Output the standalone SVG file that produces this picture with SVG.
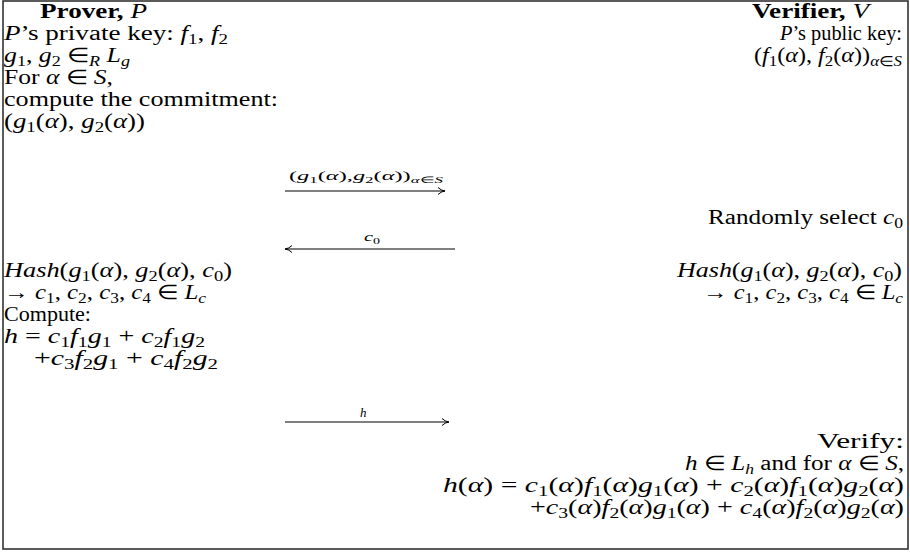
<svg xmlns="http://www.w3.org/2000/svg" width="910" height="552" viewBox="0 0 910 552">
<style>
.t{font-family:"Liberation Serif","Times New Roman",serif;font-size:20px;fill:#000}
.sm{font-size:13px}
.i{font-style:italic}
.b{font-weight:bold}
.s{font-size:14px}
.ss{font-size:9px}
.ln{stroke:#000;stroke-width:1.1;fill:none}
</style>
<defs>
<marker id="ah" markerWidth="10" markerHeight="10" refX="8" refY="5" orient="auto" markerUnits="userSpaceOnUse">
<path d="M1,1.5 Q4,4.5 8,5 Q4,5.5 1,8.5" fill="none" stroke="#000" stroke-width="1"/>
</marker>
</defs>
<rect x="3" y="1" width="905" height="548" fill="#fff" stroke="#333" stroke-width="1.6"/>

<g id="prover">
<text class="t" x="40" y="18" textLength="107" lengthAdjust="spacingAndGlyphs"><tspan class="b">Prover,</tspan> <tspan class="i">P</tspan></text>
<text class="t" x="4" y="40" textLength="224" lengthAdjust="spacingAndGlyphs"><tspan class="i">P</tspan>’s private key: <tspan class="i">f</tspan><tspan class="s" dy="4">1</tspan><tspan dy="-4">, </tspan><tspan class="i">f</tspan><tspan class="s" dy="4">2</tspan></text>
<text class="t" x="4" y="62" textLength="126" lengthAdjust="spacingAndGlyphs"><tspan class="i">g</tspan><tspan class="s" dy="4">1</tspan><tspan dy="-4">, </tspan><tspan class="i">g</tspan><tspan class="s" dy="4">2</tspan><tspan dy="-4"> ∈</tspan><tspan class="s i" dy="4">R</tspan><tspan class="i" dy="-4"> L</tspan><tspan class="s i" dy="4">g</tspan></text>
<text class="t" x="4" y="84" textLength="109" lengthAdjust="spacingAndGlyphs">For <tspan class="i">α</tspan> ∈ <tspan class="i">S</tspan>,</text>
<text class="t" x="4" y="106" textLength="274" lengthAdjust="spacingAndGlyphs">compute the commitment:</text>
<text class="t" x="4" y="128" textLength="141" lengthAdjust="spacingAndGlyphs">(<tspan class="i">g</tspan><tspan class="s" dy="4">1</tspan><tspan dy="-4">(</tspan><tspan class="i">α</tspan>), <tspan class="i">g</tspan><tspan class="s" dy="4">2</tspan><tspan dy="-4">(</tspan><tspan class="i">α</tspan>))</text>
</g>

<g id="prover-hash">
<text class="t" x="4" y="277" textLength="228" lengthAdjust="spacingAndGlyphs"><tspan class="i">Hash</tspan>(<tspan class="i">g</tspan><tspan class="s" dy="4">1</tspan><tspan dy="-4">(</tspan><tspan class="i">α</tspan>), <tspan class="i">g</tspan><tspan class="s" dy="4">2</tspan><tspan dy="-4">(</tspan><tspan class="i">α</tspan>), <tspan class="i">c</tspan><tspan class="s" dy="4">0</tspan><tspan dy="-4">)</tspan></text>
<text class="t" x="4" y="299" textLength="202" lengthAdjust="spacingAndGlyphs">→ <tspan class="i">c</tspan><tspan class="s" dy="4">1</tspan><tspan dy="-4">, </tspan><tspan class="i">c</tspan><tspan class="s" dy="4">2</tspan><tspan dy="-4">, </tspan><tspan class="i">c</tspan><tspan class="s" dy="4">3</tspan><tspan dy="-4">, </tspan><tspan class="i">c</tspan><tspan class="s" dy="4">4</tspan><tspan dy="-4"> ∈ </tspan><tspan class="i">L</tspan><tspan class="s i" dy="4">c</tspan></text>
<text class="t" x="4" y="321" textLength="87" lengthAdjust="spacingAndGlyphs">Compute:</text>
<text class="t" x="4" y="343" textLength="201" lengthAdjust="spacingAndGlyphs"><tspan class="i">h</tspan> = <tspan class="i">c</tspan><tspan class="s" dy="4">1</tspan><tspan class="i" dy="-4">f</tspan><tspan class="s" dy="4">1</tspan><tspan class="i" dy="-4">g</tspan><tspan class="s" dy="4">1</tspan><tspan dy="-4"> + </tspan><tspan class="i">c</tspan><tspan class="s" dy="4">2</tspan><tspan class="i" dy="-4">f</tspan><tspan class="s" dy="4">1</tspan><tspan class="i" dy="-4">g</tspan><tspan class="s" dy="4">2</tspan></text>
<text class="t" x="34" y="365" textLength="184" lengthAdjust="spacingAndGlyphs">+<tspan class="i">c</tspan><tspan class="s" dy="4">3</tspan><tspan class="i" dy="-4">f</tspan><tspan class="s" dy="4">2</tspan><tspan class="i" dy="-4">g</tspan><tspan class="s" dy="4">1</tspan><tspan dy="-4"> + </tspan><tspan class="i">c</tspan><tspan class="s" dy="4">4</tspan><tspan class="i" dy="-4">f</tspan><tspan class="s" dy="4">2</tspan><tspan class="i" dy="-4">g</tspan><tspan class="s" dy="4">2</tspan></text>
</g>

<g id="verifier">
<text class="t" x="752" y="18" textLength="117" lengthAdjust="spacingAndGlyphs"><tspan class="b">Verifier,</tspan> <tspan class="i">V</tspan></text>
<text class="t" x="780" y="40" textLength="122" lengthAdjust="spacingAndGlyphs"><tspan class="i">P</tspan>’s public key:</text>
<text class="t" x="754" y="62" textLength="148" lengthAdjust="spacingAndGlyphs">(<tspan class="i">f</tspan><tspan class="s" dy="4">1</tspan><tspan dy="-4">(</tspan><tspan class="i">α</tspan>), <tspan class="i">f</tspan><tspan class="s" dy="4">2</tspan><tspan dy="-4">(</tspan><tspan class="i">α</tspan>))<tspan class="s" dy="4"><tspan class="i">α</tspan>∈<tspan class="i">S</tspan></tspan></text>
</g>

<g id="verifier-select">
<text class="t" x="708" y="224" textLength="195" lengthAdjust="spacingAndGlyphs">Randomly select <tspan class="i">c</tspan><tspan class="s" dy="4">0</tspan></text>
</g>

<g id="verifier-hash">
<text class="t" x="677" y="277" textLength="225" lengthAdjust="spacingAndGlyphs"><tspan class="i">Hash</tspan>(<tspan class="i">g</tspan><tspan class="s" dy="4">1</tspan><tspan dy="-4">(</tspan><tspan class="i">α</tspan>), <tspan class="i">g</tspan><tspan class="s" dy="4">2</tspan><tspan dy="-4">(</tspan><tspan class="i">α</tspan>), <tspan class="i">c</tspan><tspan class="s" dy="4">0</tspan><tspan dy="-4">)</tspan></text>
<text class="t" x="703" y="299" textLength="200" lengthAdjust="spacingAndGlyphs">→ <tspan class="i">c</tspan><tspan class="s" dy="4">1</tspan><tspan dy="-4">, </tspan><tspan class="i">c</tspan><tspan class="s" dy="4">2</tspan><tspan dy="-4">, </tspan><tspan class="i">c</tspan><tspan class="s" dy="4">3</tspan><tspan dy="-4">, </tspan><tspan class="i">c</tspan><tspan class="s" dy="4">4</tspan><tspan dy="-4"> ∈ </tspan><tspan class="i">L</tspan><tspan class="s i" dy="4">c</tspan></text>
</g>

<g id="verifier-verify">
<text class="t" x="817" y="448" textLength="87" lengthAdjust="spacingAndGlyphs">Verify:</text>
<text class="t" x="685" y="470" textLength="219" lengthAdjust="spacingAndGlyphs"><tspan class="i">h</tspan> ∈ <tspan class="i">L</tspan><tspan class="s i" dy="4">h</tspan><tspan dy="-4"> and for </tspan><tspan class="i">α</tspan> ∈ <tspan class="i">S</tspan>,</text>
<text class="t" x="443" y="492" textLength="461" lengthAdjust="spacingAndGlyphs"><tspan class="i">h</tspan>(<tspan class="i">α</tspan>) = <tspan class="i">c</tspan><tspan class="s" dy="4">1</tspan><tspan dy="-4">(</tspan><tspan class="i">α</tspan>)<tspan class="i">f</tspan><tspan class="s" dy="4">1</tspan><tspan dy="-4">(</tspan><tspan class="i">α</tspan>)<tspan class="i">g</tspan><tspan class="s" dy="4">1</tspan><tspan dy="-4">(</tspan><tspan class="i">α</tspan>) + <tspan class="i">c</tspan><tspan class="s" dy="4">2</tspan><tspan dy="-4">(</tspan><tspan class="i">α</tspan>)<tspan class="i">f</tspan><tspan class="s" dy="4">1</tspan><tspan dy="-4">(</tspan><tspan class="i">α</tspan>)<tspan class="i">g</tspan><tspan class="s" dy="4">2</tspan><tspan dy="-4">(</tspan><tspan class="i">α</tspan>)</text>
<text class="t" x="530" y="514" textLength="374" lengthAdjust="spacingAndGlyphs">+<tspan class="i">c</tspan><tspan class="s" dy="4">3</tspan><tspan dy="-4">(</tspan><tspan class="i">α</tspan>)<tspan class="i">f</tspan><tspan class="s" dy="4">2</tspan><tspan dy="-4">(</tspan><tspan class="i">α</tspan>)<tspan class="i">g</tspan><tspan class="s" dy="4">1</tspan><tspan dy="-4">(</tspan><tspan class="i">α</tspan>) + <tspan class="i">c</tspan><tspan class="s" dy="4">4</tspan><tspan dy="-4">(</tspan><tspan class="i">α</tspan>)<tspan class="i">f</tspan><tspan class="s" dy="4">2</tspan><tspan dy="-4">(</tspan><tspan class="i">α</tspan>)<tspan class="i">g</tspan><tspan class="s" dy="4">2</tspan><tspan dy="-4">(</tspan><tspan class="i">α</tspan>)</text>
</g>

<g id="connectors">
<line class="ln" x1="285" y1="191" x2="445" y2="191" marker-end="url(#ah)"/>
<text class="t sm" x="289" y="180" textLength="154" lengthAdjust="spacingAndGlyphs">(<tspan class="i">g</tspan><tspan class="ss" dy="2.5">1</tspan><tspan dy="-2.5">(</tspan><tspan class="i">α</tspan>),<tspan class="i">g</tspan><tspan class="ss" dy="2.5">2</tspan><tspan dy="-2.5">(</tspan><tspan class="i">α</tspan>))<tspan class="ss" dy="2.5"><tspan class="i">α</tspan>∈<tspan class="i">S</tspan></tspan></text>
<line class="ln" x1="455" y1="249" x2="285" y2="249" marker-end="url(#ah)"/>
<text class="t sm" x="364" y="241" textLength="16" lengthAdjust="spacingAndGlyphs"><tspan class="i">c</tspan><tspan class="ss" dy="2.5">0</tspan></text>
<line class="ln" x1="285" y1="422" x2="449" y2="422" marker-end="url(#ah)"/>
<text class="t sm i" x="360" y="417">h</text>
</g>
</svg>
